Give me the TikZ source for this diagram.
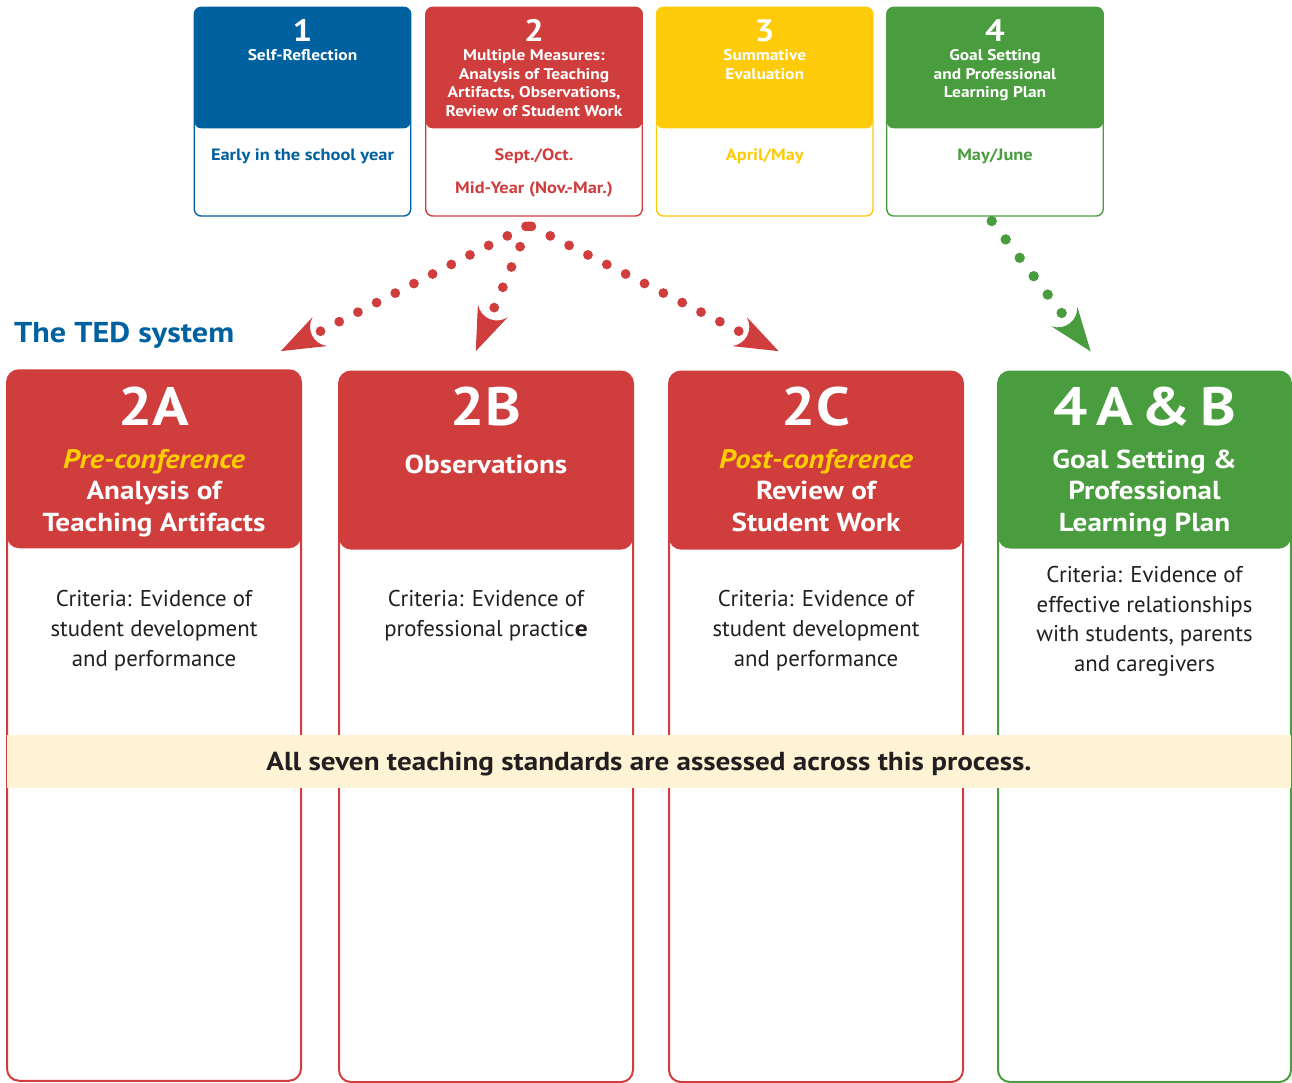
\documentclass[tikz,border=0pt]{standalone}
\usepackage{fontspec}
\setmainfont{PT Sans}[BoldFeatures={FakeStretch=1.12},BoldItalicFeatures={FakeStretch=1.12}]
\definecolor{tedblue}{RGB}{0,97,161}
\definecolor{tedred}{RGB}{208,61,61}
\definecolor{tedyellow}{RGB}{254,203,11}
\definecolor{tedgreen}{RGB}{74,157,63}
\definecolor{tedaccent}{RGB}{255,206,0}
\definecolor{tedcream}{RGB}{254,243,213}
\definecolor{tedtext}{RGB}{35,31,32}
\tikzset{
  topbox/.style={draw=#1, line width=1.4pt, fill=white, rounded corners=7pt, minimum width=216.5pt, minimum height=208.7pt, inner sep=0pt, outer sep=0pt},
  bigbox/.style={draw=#1, line width=2pt, fill=white, rounded corners=12pt, minimum width=294pt, minimum height=710.5pt, inner sep=0pt, outer sep=0pt},
  numtxt/.style={font=\fontsize{31}{31}\selectfont\bfseries, text=white, anchor=base, inner sep=0pt},
  ttltxt/.style={font=\fontsize{15.5}{18.5}\selectfont\bfseries, text=white, anchor=base, align=center, inner sep=0pt},
  datetxt/.style={font=\fontsize{16.4}{32.5}\selectfont\bfseries, text=#1, anchor=base, align=center, inner sep=0pt},
  codetxt/.style={font=\fontsize{54}{54}\selectfont\bfseries, text=white, anchor=base, inner sep=0pt},
  subtxt/.style={font=\fontsize{26}{31.8}\selectfont\bfseries, text=white, anchor=base, align=center, inner sep=0pt},
  crittxt/.style={font=\fontsize{22.8}{30}\selectfont, text=tedtext, anchor=base, align=center, inner sep=0pt},
  dotline/.style={draw=#1, line width=9.8pt, line cap=round},
  pics/ahead/.style={code={\fill (#1+43.6,0) -- (#1,16.2) .. controls (#1+11.5,8) and (#1+11.5,-8) .. (#1,-16.2) -- cycle;}},
}
\newcommand\accenttext[1]{{\fontsize{26.8}{31.8}\selectfont\itshape\color{tedaccent}#1}}
\begin{document}
\begin{tikzpicture}[x=1pt,y=-1pt]
\useasboundingbox (0,0) rectangle (1292,1083);
% top boxes
\node[topbox=tedblue] (b1) at (302.5,111.7) {};
\fill[tedblue, rounded corners=7pt] (b1.north west) rectangle ([yshift=-121pt]b1.north east);
\node[topbox=tedred] (b2) at (534,111.7) {};
\fill[tedred, rounded corners=7pt] (b2.north west) rectangle ([yshift=-121pt]b2.north east);
\node[topbox=tedyellow] (b3) at (764.7,111.7) {};
\fill[tedyellow, rounded corners=7pt] (b3.north west) rectangle ([yshift=-121pt]b3.north east);
\node[topbox=tedgreen] (b4) at (995,111.7) {};
\fill[tedgreen, rounded corners=7pt] (b4.north west) rectangle ([yshift=-121pt]b4.north east);

% (multi-line nodes: base anchor = baseline of the last line)
\node[numtxt] (n1) at (302.5,41.7) {1};
\node[ttltxt] (t1) at (302.5,60.7) {Self-Reflection};
\node[datetxt=tedblue] (d1) at (302.5,161) {Early in the school year};
\node[numtxt] (n2) at (534,41.7) {2};
\node[ttltxt] (t2) at (534,116.2) {Multiple Measures:\\Analysis of Teaching\\Artifacts, Observations,\\Review of Student Work};
\node[datetxt=tedred] (d2) at (534,193.5) {Sept./Oct.\\Mid-Year (Nov.-Mar.)};
\node[numtxt] (n3) at (764.7,41.7) {3};
\node[ttltxt] (t3) at (764.7,79.2) {Summative\\Evaluation};
\node[datetxt=tedyellow] (d3) at (764.7,161) {April/May};
\node[numtxt] (n4) at (995,41.7) {4};
\node[ttltxt] (t4) at (995,97.7) {Goal Setting\\and Professional\\Learning Plan};
\node[datetxt=tedgreen] (d4) at (995,161) {May/June};

% title
\node[font=\fontsize{28.7}{30}\selectfont\bfseries, text=tedblue, anchor=base west, inner sep=0pt] (ted) at (14,342.7) {The TED system};

% big boxes
\node[bigbox=tedred] (c2a) at (154,725.5) {};
\fill[tedred, rounded corners=12pt] (c2a.north west) rectangle ([yshift=-178pt]c2a.north east);
\node[bigbox=tedred] (c2b) at (486,726.8) {};
\fill[tedred, rounded corners=12pt] (c2b.north west) rectangle ([yshift=-178pt]c2b.north east);
\node[bigbox=tedred] (c2c) at (816,726.8) {};
\fill[tedred, rounded corners=12pt] (c2c.north west) rectangle ([yshift=-178pt]c2c.north east);
\node[bigbox=tedgreen, minimum width=293pt] (c4) at (1144.5,726.8) {};
\fill[tedgreen, rounded corners=12pt] (c4.north west) rectangle ([yshift=-177pt]c4.north east);

\node[codetxt] (k2a) at (154,425) {2A};
\node[subtxt] (s2a) at (154,531.6) {\accenttext{Pre-conference}\\Analysis of\\Teaching Artifacts};
\node[crittxt] (r2a) at (154,666) {Criteria: Evidence of\\student development\\and performance};

\node[codetxt] (k2b) at (486,425) {2B};
\node[subtxt] (s2b) at (486,473.3) {Observations};
\node[crittxt] (r2b) at (486,636) {Criteria: Evidence of\\professional practic{\bfseries e}};

\node[codetxt] (k2c) at (816,425) {2C};
\node[subtxt] (s2c) at (816,531.6) {\accenttext{Post-conference}\\Review of\\Student Work};
\node[crittxt] (r2c) at (816,666) {Criteria: Evidence of\\student development\\and performance};

\node[codetxt] (k4) at (1144.5,425) {4\hspace{9pt}A\hspace{9pt}\&\hspace{9pt}B};
\node[subtxt] (s4) at (1144.5,531.6) {Goal Setting \&\\Professional\\Learning Plan};
\node[crittxt, font=\fontsize{22.8}{29.5}\selectfont] (r4) at (1144.5,671.2) {Criteria: Evidence of\\effective relationships\\with students, parents\\and caregivers};

% banner
\node[fill=tedcream, minimum width=1284pt, minimum height=52.5pt, inner sep=0pt, text height=17pt, text depth=0pt, font=\fontsize{26}{26}\selectfont\bfseries, text=tedtext] (ban) at (649,761.5) {All seven teaching standards are assessed across this process.};

% dotted arrows
\coordinate (oL) at ([xshift=-8pt,yshift=-10.3pt]b2.south);
\coordinate (oM) at ([xshift=-5.3pt,yshift=-10.3pt]b2.south);
\coordinate (oR) at ([xshift=-2.6pt,yshift=-10.3pt]b2.south);
\coordinate (eL) at (320.4,331.3);
\coordinate (eM) at (494.2,307.7);
\coordinate (eR) at (739,331.3);
\coordinate (oG) at ([xshift=-3.3pt,yshift=-5pt]b4.south);
\coordinate (eG) at (1061.7,313);
\draw[dotline=tedred, dash pattern=on 0pt off 20.97pt] (oL) -- (eL);
\draw[dotline=tedred, dash pattern=on 0pt off 22.07pt] (oM) -- (eM);
\draw[dotline=tedred, dash pattern=on 0pt off 21.12pt] (oR) -- (eR);
\draw[dotline=tedgreen, line width=10.4pt, dash pattern=on 0pt off 23.1pt] (oG) -- (eG);
\pic[color=tedred, rotate=206.6] at (eL) {ahead=0.7};
\pic[color=tedred, rotate=247] at (eM) {ahead=3.6};
\pic[color=tedred, rotate=333.4] at (eR) {ahead=0.7};
\pic[color=tedgreen, rotate=-53] at (eG) {ahead=4.5};
\end{tikzpicture}
\end{document}
